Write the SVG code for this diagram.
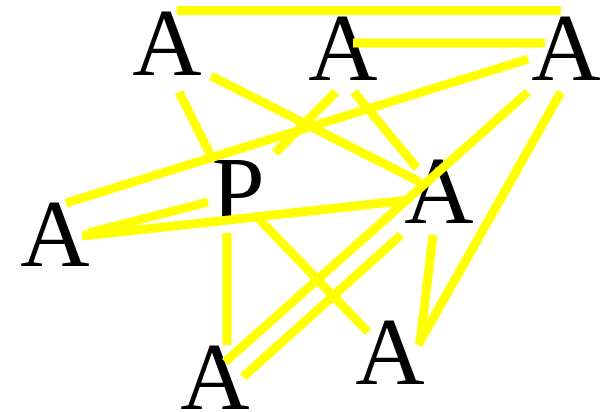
<svg xmlns="http://www.w3.org/2000/svg" width="603" height="412" viewBox="0 0 603 412">
<style>
text{font-family:"Liberation Serif","Times New Roman",serif;font-size:96px;fill:#000;text-anchor:middle}
#edges line{stroke:#ffff00;stroke-width:9;stroke-linecap:butt}
</style>
<rect width="603" height="412" fill="#fff"/>
<g id="n1"><text x="167" y="75">A</text></g>
<g id="n2"><text x="343" y="80">A</text></g>
<g id="n3"><text x="566" y="80">A</text></g>
<g id="nP"><text x="238" y="223">P</text></g>
<g id="n4"><text x="439" y="223">A</text></g>
<g id="n5"><text x="55" y="266">A</text></g>
<g id="n6"><text x="390" y="384">A</text></g>
<g id="n7"><text x="215" y="409">A</text></g>
<g id="edges">
<line x1="177" y1="10.5" x2="561" y2="10.5"/>
<line x1="353" y1="43" x2="545" y2="43"/>
<line x1="179" y1="92" x2="210" y2="154"/>
<line x1="211" y1="76" x2="420" y2="182"/>
<line x1="336" y1="92" x2="275" y2="153"/>
<line x1="354" y1="92" x2="417" y2="168"/>
<line x1="528" y1="59" x2="66" y2="203"/>
<line x1="528" y1="92" x2="225" y2="362"/>
<line x1="561" y1="92" x2="418" y2="345"/>
<line x1="88" y1="233" x2="208" y2="202"/>
<line x1="82" y1="236" x2="410" y2="200"/>
<line x1="227" y1="233" x2="227" y2="345"/>
<line x1="258" y1="218" x2="368" y2="332"/>
<line x1="401" y1="235" x2="243" y2="377"/>
<line x1="433" y1="235" x2="420" y2="343"/>
</g>
</svg>
